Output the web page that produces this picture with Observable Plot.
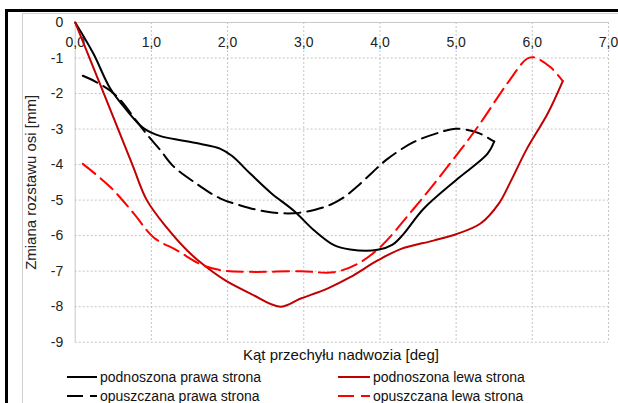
<!DOCTYPE html>
<html>
<head>
<meta charset="utf-8">
<script src="https://cdn.jsdelivr.net/npm/d3@7"></script>
<script src="https://cdn.jsdelivr.net/npm/@observablehq/plot@0.6"></script>
<style>
  html, body { margin: 0; padding: 0; background: #fff; }
  #wrap { position: relative; width: 618px; height: 403px; overflow: hidden; background: #fff;
          font-family: "Liberation Sans", Arial, sans-serif; color: #000; }
  #chart { position: absolute; left: 0; top: 0; }
  .b { position: absolute; }
  .leg { position: absolute; font-size: 14px; line-height: 16px; white-space: nowrap; color: #111; }
  .xlabel { position: absolute; font-size: 15px; white-space: nowrap; transform: translate(-50%, -50%); color: #111; }
</style>
</head>
<body>
<div id="wrap">
  <div id="chart"></div>
  <div class="b" style="left:5px;top:9px;width:613px;height:3px;background:#000"></div>
  <div class="b" style="left:5px;top:9px;width:3px;height:394px;background:#000"></div>
  <div class="b" style="left:22px;top:13px;width:596px;height:1px;background:#d0d0d0"></div>
  <div class="b" style="left:22px;top:13px;width:1px;height:390px;background:#d0d0d0"></div>
  <div class="xlabel" style="left:341px;top:354px">Kąt przechyłu nadwozia [deg]</div>
</div>
<script>
// ---- data ----
const xTicks = [0, 1, 2, 3, 4, 5, 6, 7];
const yTicks = [0, -1, -2, -3, -4, -5, -6, -7, -8, -9];
const seriesNames = ["podnoszona prawa strona", "opuszczana prawa strona", "podnoszona lewa strona", "opuszczana lewa strona"];

const podnoszonaPrawa = [
  [0, 0], [0.24, -0.88], [0.46, -1.86], [0.68, -2.48], [0.9, -2.98], [1.12, -3.2], [1.4, -3.32],
  [1.65, -3.42], [1.9, -3.55], [2.06, -3.76], [2.3, -4.26], [2.57, -4.8], [2.87, -5.3], [3.13, -5.84],
  [3.39, -6.26], [3.61, -6.39], [3.97, -6.4], [4.16, -6.26], [4.3, -5.98], [4.57, -5.25], [5.02, -4.4],
  [5.41, -3.7], [5.5, -3.35]
];
const opuszczanaPrawa = [
  [0.1, -1.5], [0.27, -1.67], [0.46, -1.92], [0.6, -2.2], [0.75, -2.62], [0.9, -3.04], [1.0, -3.3],
  [1.12, -3.6], [1.29, -4.05], [1.6, -4.55], [1.9, -4.95], [2.17, -5.15], [2.52, -5.33], [2.87, -5.37],
  [3.15, -5.27], [3.35, -5.13], [3.52, -4.93], [3.7, -4.62], [3.9, -4.22], [4.1, -3.84], [4.44, -3.37],
  [4.79, -3.09], [4.99, -2.99], [5.28, -3.1], [5.5, -3.35]
];
const podnoszonaLewa = [
  [0, 0], [0.4, -2.13], [0.75, -4.0], [0.94, -5.0], [1.2, -5.77], [1.47, -6.42], [1.7, -6.85],
  [1.97, -7.26], [2.3, -7.63], [2.69, -8.0], [2.96, -7.77], [3.31, -7.49], [3.61, -7.17], [3.97, -6.7],
  [4.27, -6.38], [4.7, -6.14], [5.0, -5.96], [5.32, -5.66], [5.56, -5.1], [5.71, -4.5], [5.93, -3.55],
  [6.2, -2.57], [6.4, -1.65]
];
const opuszczanaLewa = [
  [0.1, -3.98], [0.46, -4.63], [0.77, -5.38], [1.03, -6.05], [1.34, -6.42], [1.64, -6.8], [1.9, -6.97],
  [2.3, -7.02], [2.96, -7.0], [3.39, -7.03], [3.7, -6.8], [4.0, -6.33], [4.44, -5.25], [4.88, -4.08],
  [5.28, -2.95], [5.67, -1.72], [5.93, -1.02], [6.02, -0.98], [6.24, -1.26], [6.4, -1.65]
];

const colors = ["#000000", "#000000", "#c00000", "#ff0000"];
const dashes = [null, "16,7", null, "16,7"];
const seriesData = [podnoszonaPrawa, opuszczanaPrawa, podnoszonaLewa, opuszczanaLewa];

const lineMarks = seriesData.map((s, i) => Plot.line(s, {
  x: d => d[0], y: d => d[1], curve: "catmull-rom",
  stroke: colors[i], strokeWidth: 2, strokeDasharray: dashes[i] || undefined
}));

const plot = Plot.plot({
  width: 618, height: 350,
  marginLeft: 74.7, marginRight: 10, marginTop: 22, marginBottom: 8.3,
  x: { domain: [0, 7], axis: null },
  y: { domain: [-9, 0] },
  style: { fontFamily: "'Liberation Sans', Arial, sans-serif", fontSize: "14px", color: "#222", background: "transparent" },
  marks: [
    Plot.ruleY(yTicks.filter(d => d !== 0), { stroke: "#c4c4c4", strokeDasharray: "2,2" }),
    Plot.ruleX(xTicks.filter(d => d !== 0), { stroke: "#c4c4c4", strokeDasharray: "2,2" }),
    Plot.ruleY([0], { stroke: "#c8c8c8" }),
    Plot.ruleX([0], { stroke: "#c8c8c8" }),
    Plot.axisY(yTicks, {
      tickSize: 0, tickPadding: 12, tickFormat: d => String(d),
      label: "Zmiana rozstawu osi [mm]", labelAnchor: "center", labelArrow: "none", labelOffset: 50,
      fontSize: 14
    }),
    Plot.text(xTicks, { x: d => d, y: 0, dy: 20, text: d => d.toFixed(1).replace(".", ","), fontSize: 14, fill: "#222" }),
    ...lineMarks
  ]
});
plot.querySelectorAll("g[aria-label='y-axis label'] text").forEach(t => t.setAttribute("font-size", "15"));
document.getElementById("chart").appendChild(plot);

// legend
const legendPos = [
  { x: 67, y: 377, tx: 100 }, { x: 67, y: 396, tx: 100 },
  { x: 338, y: 377, tx: 373 }, { x: 338, y: 396, tx: 373 }
];
const wrap = document.getElementById("wrap");
const svgNS = "http://www.w3.org/2000/svg";
const lsvg = document.createElementNS(svgNS, "svg");
lsvg.setAttribute("width", 618); lsvg.setAttribute("height", 403);
lsvg.style.position = "absolute"; lsvg.style.left = "0"; lsvg.style.top = "0";
seriesNames.forEach((name, i) => {
  const p = legendPos[i];
  const ln = document.createElementNS(svgNS, "line");
  ln.setAttribute("x1", p.x); ln.setAttribute("x2", p.tx - 3);
  ln.setAttribute("y1", p.y); ln.setAttribute("y2", p.y);
  ln.setAttribute("stroke", colors[i]); ln.setAttribute("stroke-width", 2);
  if (dashes[i]) ln.setAttribute("stroke-dasharray", dashes[i]);
  lsvg.appendChild(ln);
  const div = document.createElement("div");
  div.className = "leg";
  div.style.left = p.tx + "px"; div.style.top = (p.y - 8) + "px";
  div.textContent = name;
  wrap.appendChild(div);
});
wrap.appendChild(lsvg);
</script>
</body>
</html>
